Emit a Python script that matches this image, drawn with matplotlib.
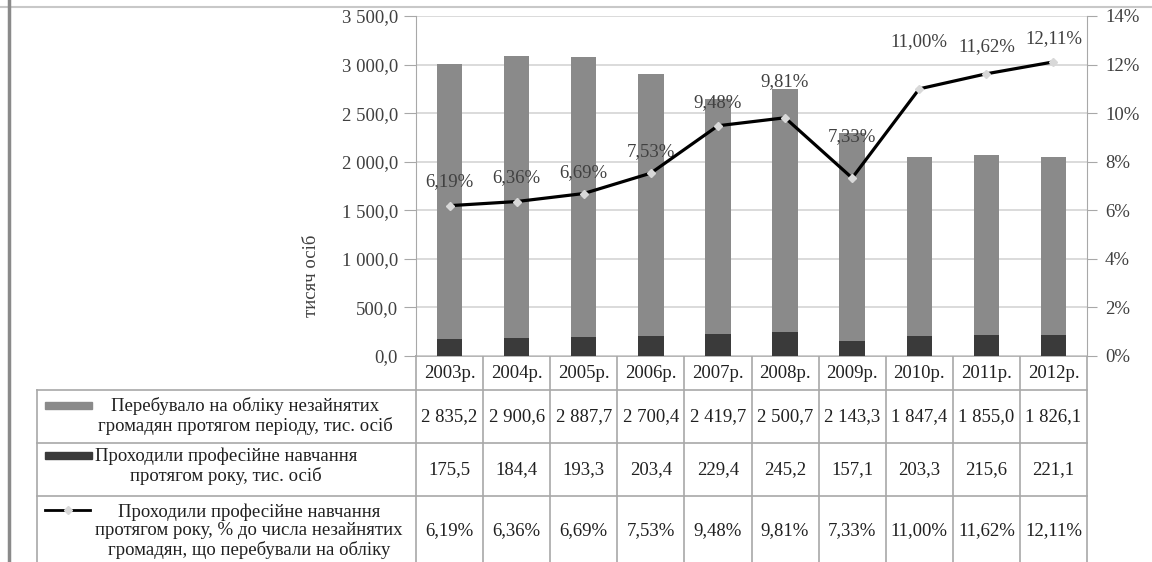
import matplotlib
matplotlib.use("Agg")
import matplotlib.pyplot as plt
from matplotlib.transforms import blended_transform_factory
from matplotlib.lines import Line2D
from matplotlib.patches import Rectangle

plt.rcParams['font.family'] = ['Liberation Serif', 'DejaVu Serif']

years = ['2003р.', '2004р.', '2005р.', '2006р.', '2007р.', '2008р.', '2009р.', '2010р.', '2011р.', '2012р.']
registered = [2835.2, 2900.6, 2887.7, 2700.4, 2419.7, 2500.7, 2143.3, 1847.4, 1855.0, 1826.1]
trained = [175.5, 184.4, 193.3, 203.4, 229.4, 245.2, 157.1, 203.3, 215.6, 221.1]
share = [6.19, 6.36, 6.69, 7.53, 9.48, 9.81, 7.33, 11.00, 11.62, 12.11]

row_labels = [
    'Перебувало на обліку незайнятих\nгромадян протягом періоду, тис. осіб',
    'Проходили професійне навчання\nпротягом року, тис. осіб',
    'Проходили професійне навчання\nпротягом року, % до числа незайнятих\nгромадян, що перебували на обліку',
]

# label offsets above the points (pixels)
label_dy = [24, 24, 21, 22, 23, 36, 41, 47, 27, 23]

grey_bar = '#8a8a8a'
dark_bar = '#3a3a3a'
grid_c = '#d4d4d4'
line_c = '#a8a8a8'
text_c = '#404040'

W, H = 1152, 562
fig = plt.figure(figsize=(W / 100, H / 100), dpi=100)

# pixel-space overlay for frame and table
ov = fig.add_axes([0, 0, 1, 1])
ov.set_xlim(0, W)
ov.set_ylim(H, 0)
ov.axis('off')

L, R, T, B = 416, 1087, 16, 356
ax = fig.add_axes([L / W, 1 - B / H, (R - L) / W, (B - T) / H])
ax.set_zorder(2)
ax.patch.set_alpha(0)

x = list(range(len(years)))
ax.bar(x, trained, width=0.38, color=dark_bar, zorder=3)
ax.bar(x, registered, width=0.38, bottom=trained, color=grey_bar, zorder=3)
ax.set_xlim(-0.5, len(years) - 0.5)
ax.set_ylim(0, 3500)
ax.set_yticks(range(0, 3501, 500))
ax.set_yticklabels([f"{v:,.1f}".replace(',', ' ').replace('.', ',') for v in range(0, 3501, 500)])
ax.set_xticks([])
ax.yaxis.grid(True, color=grid_c, lw=1.2, zorder=0)
ax.set_axisbelow(True)
for s in ['top', 'bottom', 'right']:
    ax.spines[s].set_visible(False)
ax.spines['left'].set_color(line_c)
ax.tick_params(axis='y', length=9, color=line_c, labelsize=13.5, labelcolor=text_c, pad=4)

ax2 = ax.twinx()
ax2.plot(x, share, color='black', lw=2.3, marker='D', ms=4.5,
         mfc='#d8d8d8', mec='#d8d8d8', zorder=5)
ax2.set_ylim(0, 14)
ax2.set_yticks(range(0, 15, 2))
ax2.set_yticklabels([f"{v}%" for v in range(0, 15, 2)])
for s in ['top', 'bottom', 'left']:
    ax2.spines[s].set_visible(False)
ax2.spines['right'].set_color(line_c)
ax2.tick_params(axis='y', length=7, color=line_c, labelsize=13.5, labelcolor=text_c, pad=6)
for xi, v, dy in zip(x, share, label_dy):
    ax2.annotate(f"{v:.2f}%".replace('.', ','), (xi, v), xytext=(0, dy * 0.72),
                 textcoords='offset points', ha='center', va='center',
                 fontsize=13.5, color=text_c)

fig.text(312 / W, 1 - 276 / H, 'тисяч осіб', rotation=90, ha='center', va='center',
         fontsize=13.5, color=text_c)

# picture frame
ov.add_line(Line2D([0, W], [7, 7], color='#c8c8c8', lw=1.5))
ov.add_line(Line2D([9, 9], [0, H], color='#8a8a8a', lw=2.5))

# data table
bt = blended_transform_factory(ax.transData, ov.transData)
rows_y = [B, 390, 443, 496, H + 2]
lab_left = 37
for yy in rows_y[1:4]:
    ov.add_line(Line2D([lab_left, R], [yy, yy], color=line_c, lw=1.2))
ov.add_line(Line2D([lab_left, lab_left], [390, H], color=line_c, lw=1.2))
ov.add_line(Line2D([L, L], [B, H], color=line_c, lw=1.2))
ov.add_line(Line2D([R, R], [B, H], color=line_c, lw=1.2))
ov.add_line(Line2D([L, R], [B, B], color=line_c, lw=1.2))
for k in range(1, len(years)):
    ov.add_line(Line2D([k - 0.5, k - 0.5], [B, H], color=line_c, lw=1.2, transform=bt))

fmt = lambda v: f"{v:,.1f}".replace(',', ' ').replace('.', ',')
rows = [years,
        [fmt(v) for v in registered],
        [fmt(v) for v in trained],
        [f"{v:.2f}%".replace('.', ',') for v in share]]
for r, vals in enumerate(rows):
    yc = (rows_y[r] + rows_y[r + 1]) / 2 if r < 3 else 531
    for xi, s in zip(x, vals):
        ov.text(xi, yc, s, transform=bt, ha='center', va='center', fontsize=13.5, color='#202020')

# legend keys + row labels
ov.add_patch(Rectangle((45, 402), 47, 7, color=grey_bar))
ov.add_patch(Rectangle((45, 452), 47, 7, color=dark_bar))
ov.add_line(Line2D([45, 90], [510, 510], color='black', lw=2))
ov.add_line(Line2D([68], [510], marker='D', ms=4, mfc='#d8d8d8', mec='#d8d8d8'))
label_xy = [(245, 416), (226, 466), (249, 531)]
for (lx, ly), s in zip(label_xy, row_labels):
    ov.text(lx, ly, s, ha='center', va='center', fontsize=13.5, color='#202020', linespacing=1.12)

fig.savefig('out.png', dpi=100)
